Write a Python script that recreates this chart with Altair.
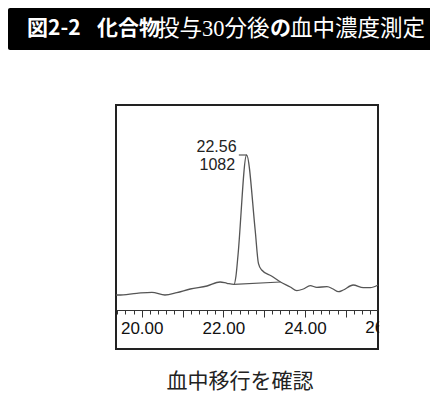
import altair as alt
import pandas as pd

# ---- data ----
time_min = [19.37, 19.43, 19.88, 20.25, 20.57, 20.86, 21.19, 21.60, 21.92, 22.09,
            22.26, 22.31, 22.36, 22.57, 22.78, 22.86, 22.94, 23.18, 23.40, 23.64,
            23.80, 23.96, 24.13, 24.29, 24.54, 24.69, 24.82, 24.94, 25.18, 25.43,
            25.60, 25.79]
signal = [1, 1, 2.7, 3.7, 1, 3.3, 7, 10, 14, 12.7,
          11.7, 20, 41, 141, 66, 32.7, 26, 20, 14, 9,
          5.3, 7, 10.3, 8.7, 9.3, 7, 4.3, 6, 11, 8.3,
          8.3, 11]
baseline_time = [22.26, 23.40]
baseline_signal = [11.7, 14]
leader_time = [22.38, 22.57]
leader_signal = [141, 141]
apex_time = [22.57]
apex_signal = [141]
peak_rt = "22.56"
peak_area = "1082"
tick_values = [round(19.4 + 0.2 * i, 1) for i in range(32)]
edge_label_value = [26.0]
edge_label_text = ["26.00"]
title_parts = ["図2-2", "化合物", "投与30分後", "の", "血中濃度測定"]
title_bold = [True, True, False, True, False]
caption = "血中移行を確認"

# ---- scales ----
xs = alt.Scale(domain=[19.37, 25.79], nice=False, zero=False)
ys = alt.Scale(domain=[-53, 191], nice=False, zero=False)

trace_df = pd.DataFrame({"t": time_min, "s": signal, "i": range(len(time_min))})

x_axis = alt.Axis(
    values=tick_values,
    tickSize={"condition": {"test": "abs(datum.value - round(datum.value)) < 0.01", "value": 7}, "value": 4},
    labelExpr="abs(datum.value/2 - round(datum.value/2)) < 0.01 ? format(datum.value, '.2f') : ''",
    offset=-39,
    domainColor="#333",
    tickColor="#333",
    tickWidth=1,
    labelFont="Liberation Sans",
    labelFontSize=17,
    labelColor="#111",
    labelPadding=3,
    labelOverlap=False,
    labelFlush=False,
    grid=False,
    title=None,
)


def xenc(field="t"):
    return alt.X(f"{field}:Q", scale=xs, axis=x_axis)


def yenc():
    return alt.Y("s:Q", scale=ys, axis=None)


trace = alt.Chart(trace_df).mark_line(color="#555", strokeWidth=1.3, interpolate="monotone").encode(
    x=xenc(), y=yenc(), order="i:Q",
)

base_df = pd.DataFrame({"t": baseline_time, "s": baseline_signal})
baseline = alt.Chart(base_df).mark_line(color="#555", strokeWidth=1.2).encode(x=xenc(), y=yenc())

lead_df = pd.DataFrame({"t": leader_time, "s": leader_signal})
leader = alt.Chart(lead_df).mark_line(color="#555", strokeWidth=1.2).encode(x=xenc(), y=yenc())

apex_df = pd.DataFrame({"t": apex_time, "s": apex_signal, "rt": [peak_rt], "area": [peak_area]})
rt_label = alt.Chart(apex_df).mark_text(
    align="right", baseline="middle", dx=-10, dy=-8,
    font="Liberation Sans", fontSize=16, color="#222",
).encode(x=xenc(), y=yenc(), text="rt:N")
area_label = alt.Chart(apex_df).mark_text(
    align="right", baseline="middle", dx=-11.5, dy=10,
    font="Liberation Sans", fontSize=16, color="#222",
).encode(x=xenc(), y=yenc(), text="area:N")

# the tick label just past the right frame (clipped by the frame in the reference)
edge_df = pd.DataFrame({"t": edge_label_value, "lab": edge_label_text})
edge_label = alt.Chart(edge_df).mark_text(
    align="center", baseline="middle", font="Liberation Sans", fontSize=17, color="#111",
).encode(x=xenc(), y=alt.value(222.5), text="lab:N")

one = pd.DataFrame({"k": [0]})

# white cover clipping the axis label beyond the frame
cover = alt.Chart(one).mark_rect(color="white").encode(
    x=alt.value(263.2), x2=alt.value(330), y=alt.value(206), y2=alt.value(243)
)

# black title bar
bar = alt.Chart(one).mark_rect(color="black", cornerRadius=2).encode(
    x=alt.value(-108), x2=alt.value(317), y=alt.value(-97), y2=alt.value(-55)
)

title_x = [-89, -19, 41, 154, 174]
title_layers = []
for txt, bold, tx in zip(title_parts, title_bold, title_x):
    df = pd.DataFrame({"txt": [txt]})
    if bold:
        mk = alt.Chart(df).mark_text(
            align="left", baseline="middle", font="Noto Sans CJK JP",
            fontWeight="bold", fontSize=21, color="white")
    else:
        mk = alt.Chart(df).mark_text(
            align="left", baseline="middle", font="Liberation Serif, Noto Sans CJK JP",
            fontWeight="normal", fontSize=22.5, color="white")
    title_layers.append(mk.encode(x=alt.value(tx), y=alt.value(-76), text="txt:N"))

cap = alt.Chart(pd.DataFrame({"txt": [caption]})).mark_text(
    align="center", baseline="middle", font="Noto Sans CJK JP", fontSize=21, color="#222"
).encode(x=alt.value(124), y=alt.value(276.7), text="txt:N")

chart = alt.layer(
    trace, baseline, leader, rt_label, area_label, edge_label, cover, bar, *title_layers, cap
).properties(
    width=262, height=244,
    background="white",
    padding={"left": 108, "top": 97, "right": 52, "bottom": 48},
    autosize=alt.AutoSizeParams(type="none"),
).configure_view(
    stroke="#222", strokeWidth=2
)

chart.save("out.html", embed_options={"renderer": "svg", "actions": False})
